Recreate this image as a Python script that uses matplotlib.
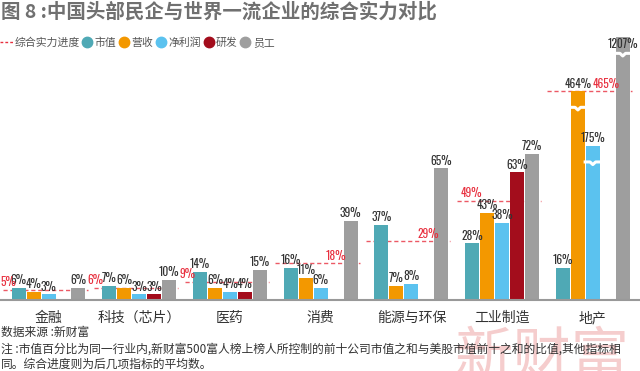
import numpy as np
import matplotlib.pyplot as plt
from matplotlib.lines import Line2D

plt.rcParams['font.family'] = ['Noto Sans CJK SC', 'DejaVu Sans']

categories = ['金融', '科技（芯片）', '医药', '消费', '能源与环保', '工业制造', '地产']
series_names = ['市值', '营收', '净利润', '研发', '员工']
market_cap = [6, 7, 14, 16, 37, 28, 16]
revenue = [4, 6, 6, 11, 7, 43, 464]
net_profit = [3, 3, 4, 6, 8, 38, 175]
rnd = [None, 3, 4, None, None, 63, None]
staff = [6, 10, 15, 39, 65, 72, 1207]
progress = [5, 6, 9, 18, 29, 49, 465]

colors = ['#4fa9b5', '#f39800', '#5bc2ef', '#a30d1c', '#9e9e9e']
red = '#e8303f'
num_font = ['Oswald', 'DejaVu Sans']

# broken value axis: linear at the bottom, squeezed for the huge 地产 values
knots_val = [0, 72, 175, 465, 1207, 3000]
knots_disp = [0, 72, 76, 103, 129.5, 160]


def fwd(v):
    return np.interp(v, knots_val, knots_disp)


def inv(d):
    return np.interp(d, knots_disp, knots_val)


fig = plt.figure(figsize=(6.4, 3.71), dpi=100)
ax = fig.add_axes([0, 71 / 371, 1, 270 / 371])
ax.set_yscale('function', functions=(fwd, inv))

x = np.arange(len(categories))
step = 0.165
w = 0.154
series = [market_cap, revenue, net_profit, rnd, staff]

for j, (vals, col) in enumerate(zip(series, colors)):
    for i, v in enumerate(vals):
        if v is None:
            continue
        xb = x[i] + (j - 2) * step
        ax.bar(xb, v, width=w, color=col, zorder=2)
        if v > 100:
            d = fwd(v) - 8
            xs = xb + np.array([-0.55, -0.2, 0, 0.2, 0.55]) * w
            ds = d + np.array([0, 0, -1.3, 0, 0])
            ax.plot(xs, inv(ds), color='white', lw=2.2, zorder=3)
        if v > 1000:
            ax.annotate(f'{v}%', (xb, v), xytext=(0, -1), textcoords='offset points',
                        ha='center', va='top', fontsize=8.3, family=num_font,
                        color='#333333', zorder=4)
        else:
            ax.annotate(f'{v}%', (xb, v), xytext=(0, 1), textcoords='offset points',
                        ha='center', va='bottom', fontsize=8.3, family=num_font,
                        color='#333333', zorder=4)

# 综合实力进度
label_dx = [-0.533, -0.57, -0.56, 0.06, 0.07, -0.46, 0.0]
ax.hlines(progress, x - 0.5, x + 0.43, colors=red, linestyles=(0, (3, 2)),
          lw=1, alpha=0.8, zorder=1)
for i, p in enumerate(progress):
    ax.annotate(f'{p}%', (x[i] + label_dx[i], p), xytext=(0, 1), textcoords='offset points',
                ha='left', va='bottom', fontsize=8.3, family=num_font,
                color=red, weight='bold', zorder=4, annotation_clip=False)

ax.set_xlim(-0.535, 6.52)
ax.set_ylim(0, inv(133))
ax.set_xticks(x, categories, fontsize=10, color='#333333')
ax.tick_params(axis='x', length=0, pad=8)
ax.set_yticks([])
for s in ['top', 'left', 'right']:
    ax.spines[s].set_visible(False)
ax.spines['bottom'].set_color('#999999')
ax.spines['bottom'].set_linewidth(1.5)

handles = [Line2D([], [], color=red, ls=(0, (2, 1.5)), lw=1)]
for col in colors:
    handles.append(Line2D([], [], color=col, marker='o', ls='none', markersize=7.5))
fig.legend(handles, ['综合实力进度'] + series_names, loc='center left',
           bbox_to_anchor=(0, 1 - 43 / 371), ncol=6, frameon=False, fontsize=7.8,
           handlelength=1.2, handletextpad=0.1, columnspacing=0.1,
           borderpad=0, borderaxespad=0, labelcolor='#555555')

fig.text(0.002, 1 - 12 / 371, '图 8 :中国头部民企与世界一流企业的综合实力对比',
         fontsize=14, weight='bold', color='#707070', va='center')

fig.text(455 / 640, 1 - 328 / 371, '新财富', fontsize=42, color='#f2b8b8',
         alpha=0.7, va='top', ha='left', zorder=0)
fig.text(0.002, 1 - 332 / 371, '数据来源 :新财富', fontsize=8.5, color='#333333', va='center')
fig.text(0.002, 1 - 349 / 371,
         '注 :市值百分比为同一行业内,新财富500富人榜上榜人所控制的前十公司市值之和与美股市值前十之和的比值,其他指标相',
         fontsize=8.5, color='#333333', va='center')
fig.text(0.002, 1 - 364 / 371, '同。综合进度则为后几项指标的平均数。',
         fontsize=8.5, color='#333333', va='center')

plt.savefig('out.png', dpi=100)
